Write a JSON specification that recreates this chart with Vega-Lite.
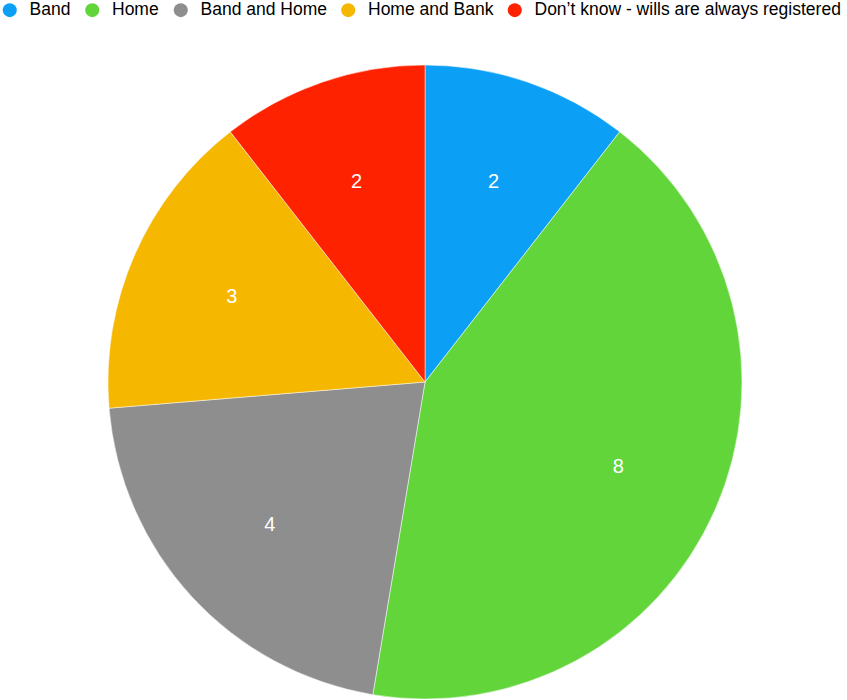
{
  "$schema": "https://vega.github.io/schema/vega-lite/v6.json",
  "width": 634,
  "height": 634,
  "autosize": "none",
  "padding": {"left": 108, "top": 65, "right": 105, "bottom": 1},
  "background": "white",
  "config": {"view": {"stroke": null}, "font": "Liberation Sans"},
  "data": {
    "values": [
      {"category": "Band", "value": 2, "rank": 1},
      {"category": "Home", "value": 8, "rank": 2},
      {"category": "Band and Home", "value": 4, "rank": 3},
      {"category": "Home and Bank", "value": 3, "rank": 4},
      {"category": "Don’t know - wills are always registered", "value": 2, "rank": 5}
    ]
  },
  "encoding": {
    "theta": {"field": "value", "type": "quantitative", "stack": true},
    "order": {"field": "rank", "type": "quantitative", "sort": "ascending"}
  },
  "layer": [
    {
      "mark": {"type": "arc", "outerRadius": 317, "stroke": "white", "strokeWidth": 0.5},
      "encoding": {
        "color": {
          "field": "category",
          "type": "nominal",
          "sort": null,
          "scale": {
            "domain": ["Band", "Home", "Band and Home", "Home and Bank", "Don’t know - wills are always registered"],
            "range": ["#0c9ff6", "#62d53a", "#8e8e8e", "#f5b700", "#ff2200"]
          },
          "legend": {
            "title": null,
            "orient": "none",
            "direction": "horizontal",
            "legendX": -107,
            "legendY": -64,
            "symbolType": "circle",
            "symbolSize": 196,
            "symbolStrokeWidth": 0,
            "labelFontSize": 17.5,
            "labelColor": "#000000",
            "labelFont": "Liberation Sans",
            "labelOffset": 11,
            "columnPadding": 12.5,
            "labelLimit": 400,
            "padding": 0
          }
        }
      }
    },
    {
      "mark": {"type": "text", "radius": 211, "fontSize": 20, "fill": "white", "font": "Liberation Sans", "baseline": "middle", "align": "center"},
      "encoding": {
        "text": {"field": "value", "type": "quantitative"}
      }
    }
  ]
}
